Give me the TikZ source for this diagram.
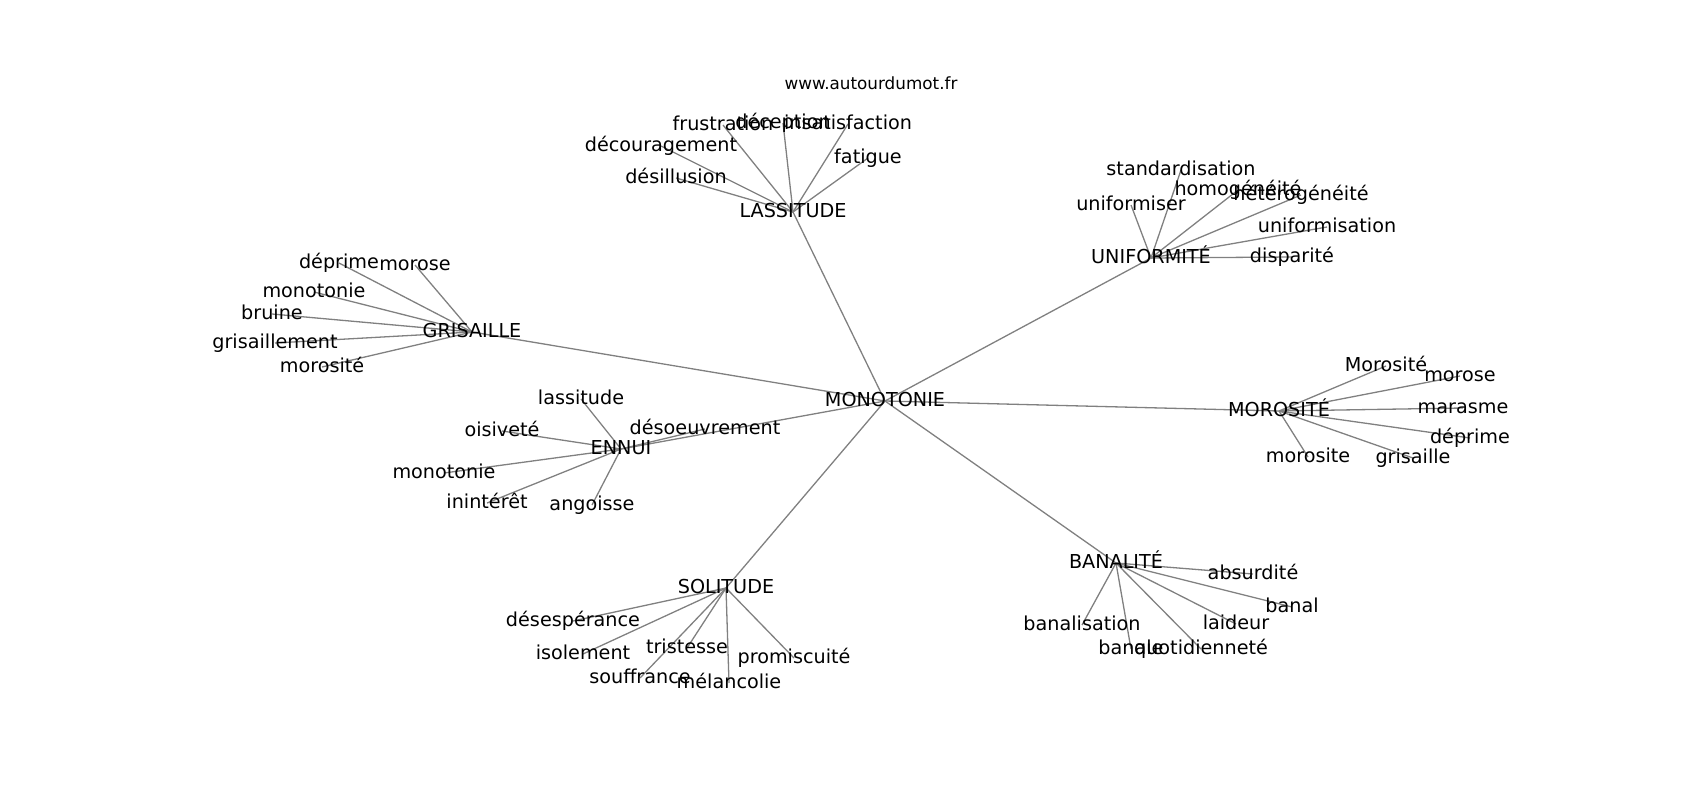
\documentclass[tikz,border=0pt]{standalone}
\usepackage{fontspec}
\setmainfont{DejaVu Sans}
\usetikzlibrary{backgrounds}
\begin{document}
\begin{tikzpicture}[x=1pt,y=-1pt,
  rotulo/.style={inner sep=0pt,text height=14.6pt,text depth=4pt,font=\fontsize{19.2pt}{20pt}\selectfont},
  aresta/.style={line width=1.3pt,gray}]
  \useasboundingbox (0,0) rectangle (1700,800);
%titulo
  \node[font=\fontsize{16.8pt}{18pt}\selectfont] (site) at (871,83) {www.autourdumot.fr};
%centro
  \node[rotulo] (mono) at (885,401) {MONOTONIE};
%grupos
  \node[rotulo] (lass) at (793,212) {LASSITUDE};
  \node[rotulo] (unif) at (1151,258) {UNIFORMITÉ};
  \node[rotulo] (gris) at (472,332) {GRISAILLE};
  \node[rotulo] (ennu) at (621,449) {ENNUI};
  \node[rotulo] (moro) at (1279,411) {MOROSITÉ};
  \node[rotulo] (soli) at (726,588) {SOLITUDE};
  \node[rotulo] (bana) at (1116,563) {BANALITÉ};
%folhas lassitude
  \node[rotulo] (frus) at (723,125) {frustration};
  \node[rotulo] (dece) at (783,123) {déception};
  \node[rotulo] (insa) at (848,124) {insatisfaction};
  \node[rotulo] (deco) at (661,146) {découragement};
  \node[rotulo] (fati) at (868,158) {fatigue};
  \node[rotulo] (desi) at (676,178) {désillusion};
%folhas uniformite
  \node[rotulo] (stan) at (1181,170) {standardisation};
  \node[rotulo] (homo) at (1238,190) {homogénéité};
  \node[rotulo] (hete) at (1301,195) {hétérogénéité};
  \node[rotulo] (unis) at (1131,205) {uniformiser};
  \node[rotulo] (unio) at (1327,227) {uniformisation};
  \node[rotulo] (disp) at (1292,257) {disparité};
%folhas grisaille
  \node[rotulo] (gdep) at (339,263) {déprime};
  \node[rotulo] (gmrs) at (415,265) {morose};
  \node[rotulo] (gmon) at (314,292) {monotonie};
  \node[rotulo] (brui) at (272,314) {bruine};
  \node[rotulo] (grem) at (275,343) {grisaillement};
  \node[rotulo] (gmor) at (322,367) {morosité};
%folhas ennui
  \node[rotulo] (elas) at (581,399) {lassitude};
  \node[rotulo] (oisi) at (502,431) {oisiveté};
  \node[rotulo] (deso) at (705,429) {désoeuvrement};
  \node[rotulo] (emon) at (444,473) {monotonie};
  \node[rotulo] (inin) at (487,503) {inintérêt};
  \node[rotulo] (ango) at (592,505) {angoisse};
%folhas morosite
  \node[rotulo] (mmaj) at (1386,366) {Morosité};
  \node[rotulo] (mmrs) at (1460,376) {morose};
  \node[rotulo] (mara) at (1463,408) {marasme};
  \node[rotulo] (mdep) at (1470,438) {déprime};
  \node[rotulo] (mmin) at (1308,457) {morosite};
  \node[rotulo] (mgri) at (1413,458) {grisaille};
%folhas solitude
  \node[rotulo] (dese) at (573,621) {désespérance};
  \node[rotulo] (isol) at (583,654) {isolement};
  \node[rotulo] (tris) at (687,648) {tristesse};
  \node[rotulo] (prom) at (794,658) {promiscuité};
  \node[rotulo] (souf) at (640,678) {souffrance};
  \node[rotulo] (mela) at (729,683) {mélancolie};
%folhas banalite
  \node[rotulo] (absu) at (1253,574) {absurdité};
  \node[rotulo] (banl) at (1292,607) {banal};
  \node[rotulo] (bans) at (1082,625) {banalisation};
  \node[rotulo] (laid) at (1236,624) {laideur};
  \node[rotulo] (bane) at (1131,649) {banale};
  \node[rotulo] (quot) at (1201,649) {quotidienneté};
%arestas
  \begin{pgfonlayer}{background}
  \draw[aresta] (mono.center) -- (lass.center);
  \draw[aresta] (mono.center) -- (unif.center);
  \draw[aresta] (mono.center) -- (gris.center);
  \draw[aresta] (mono.center) -- (ennu.center);
  \draw[aresta] (mono.center) -- (moro.center);
  \draw[aresta] (mono.center) -- (soli.center);
  \draw[aresta] (mono.center) -- (bana.center);

  \draw[aresta] (lass.center) -- (frus.center);
  \draw[aresta] (lass.center) -- (dece.center);
  \draw[aresta] (lass.center) -- (insa.center);
  \draw[aresta] (lass.center) -- (deco.center);
  \draw[aresta] (lass.center) -- (fati.center);
  \draw[aresta] (lass.center) -- (desi.center);

  \draw[aresta] (unif.center) -- (stan.center);
  \draw[aresta] (unif.center) -- (homo.center);
  \draw[aresta] (unif.center) -- (hete.center);
  \draw[aresta] (unif.center) -- (unis.center);
  \draw[aresta] (unif.center) -- (unio.center);
  \draw[aresta] (unif.center) -- (disp.center);

  \draw[aresta] (gris.center) -- (gdep.center);
  \draw[aresta] (gris.center) -- (gmrs.center);
  \draw[aresta] (gris.center) -- (gmon.center);
  \draw[aresta] (gris.center) -- (brui.center);
  \draw[aresta] (gris.center) -- (grem.center);
  \draw[aresta] (gris.center) -- (gmor.center);

  \draw[aresta] (ennu.center) -- (elas.center);
  \draw[aresta] (ennu.center) -- (oisi.center);
  \draw[aresta] (ennu.center) -- (deso.center);
  \draw[aresta] (ennu.center) -- (emon.center);
  \draw[aresta] (ennu.center) -- (inin.center);
  \draw[aresta] (ennu.center) -- (ango.center);

  \draw[aresta] (moro.center) -- (mmaj.center);
  \draw[aresta] (moro.center) -- (mmrs.center);
  \draw[aresta] (moro.center) -- (mara.center);
  \draw[aresta] (moro.center) -- (mdep.center);
  \draw[aresta] (moro.center) -- (mmin.center);
  \draw[aresta] (moro.center) -- (mgri.center);

  \draw[aresta] (soli.center) -- (dese.center);
  \draw[aresta] (soli.center) -- (isol.center);
  \draw[aresta] (soli.center) -- (tris.center);
  \draw[aresta] (soli.center) -- (prom.center);
  \draw[aresta] (soli.center) -- (souf.center);
  \draw[aresta] (soli.center) -- (mela.center);

  \draw[aresta] (bana.center) -- (absu.center);
  \draw[aresta] (bana.center) -- (banl.center);
  \draw[aresta] (bana.center) -- (bans.center);
  \draw[aresta] (bana.center) -- (laid.center);
  \draw[aresta] (bana.center) -- (bane.center);
  \draw[aresta] (bana.center) -- (quot.center);
  \end{pgfonlayer}
\end{tikzpicture}
\end{document}
